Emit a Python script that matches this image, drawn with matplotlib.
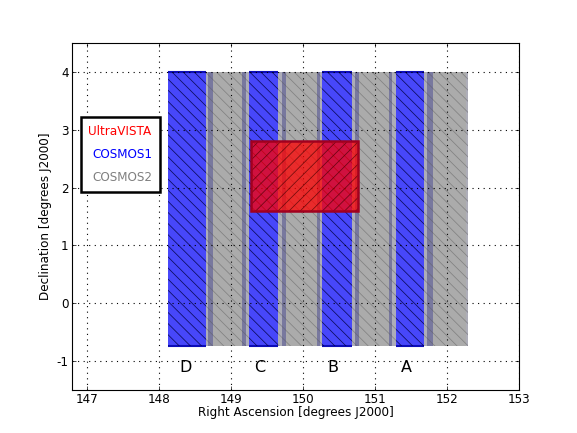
import matplotlib
matplotlib.use("Agg")
import matplotlib.pyplot as plt
from matplotlib.patches import Rectangle

matplotlib.rcParams['hatch.linewidth'] = 0.55
FS = 8.64

cosmos1_ra = [(148.13, 148.65), (149.25, 149.65), (150.27, 150.68), (151.29, 151.68)]
gap_ra = [(148.65, 149.25), (149.65, 150.27), (150.68, 151.29), (151.68, 152.29)]
overlap_ra = [(148.69, 148.75), (149.16, 149.21), (149.71, 149.77), (150.19, 150.23),
              (150.72, 150.78), (151.20, 151.24), (151.72, 151.81)]
cosmos2_ra = [(148.75, 149.16), (149.77, 150.19), (150.78, 151.20), (151.81, 152.26)]
dec_span = (-0.75, 4.0)
uvista_ra = (149.28, 150.76)
uvista_dec = (1.6, 2.8)
stripe_names = ['D', 'C', 'B', 'A']
stripe_label_ra = [148.378, 149.397, 150.416, 151.428]
stripe_label_dec = -1.11
xticks = [147, 148, 149, 150, 151, 152, 153]
yticks = [-1, 0, 1, 2, 3, 4]


def band(ax, ra, color, z):
    ax.add_patch(Rectangle((ra[0], dec_span[0]), ra[1]-ra[0], dec_span[1]-dec_span[0],
                           facecolor=color, edgecolor='none', lw=0, zorder=z))


fig = plt.figure(figsize=(5.77, 4.33), dpi=100)
ax = fig.add_axes([0.125, 0.1, 0.775, 0.8])
for ra in gap_ra:
    band(ax, ra, (0.68, 0.68, 0.72), 2)
for ra in cosmos2_ra:
    band(ax, ra, (0.67, 0.67, 0.67), 2.1)
for ra in overlap_ra:
    band(ax, ra, (0.47, 0.47, 0.62), 2.2)
for ra in cosmos1_ra:
    band(ax, ra, (0.28, 0.28, 0.98), 2.3)
    for y in dec_span:
        ax.plot(ra, [y, y], color=(0.05, 0.05, 0.72), lw=1.5, solid_capstyle='butt', zorder=2.4)
for ra in cosmos1_ra:
    ax.add_patch(Rectangle((ra[0], dec_span[0]), ra[1]-ra[0], dec_span[1]-dec_span[0],
                           fill=False, edgecolor=(0, 0, 0.25, 0.85), lw=0, hatch='\\\\\\', zorder=2.5))
for ra in gap_ra:
    ax.add_patch(Rectangle((ra[0], dec_span[0]), ra[1]-ra[0], dec_span[1]-dec_span[0],
                           fill=False, edgecolor=(0.35, 0.35, 0.35, 0.5), lw=0, hatch='\\\\\\', zorder=2.5))
ax.add_patch(Rectangle((uvista_ra[0], uvista_dec[0]), uvista_ra[1]-uvista_ra[0], uvista_dec[1]-uvista_dec[0],
                       facecolor=(1, 0, 0, 0.75), edgecolor='none', lw=0, zorder=4))
ax.add_patch(Rectangle((uvista_ra[0], uvista_dec[0]), uvista_ra[1]-uvista_ra[0], uvista_dec[1]-uvista_dec[0],
                       fill=False, edgecolor=(0.25, 0, 0, 0.7), lw=0, hatch='///', zorder=4.1))
ax.add_patch(Rectangle((uvista_ra[0], uvista_dec[0]), uvista_ra[1]-uvista_ra[0], uvista_dec[1]-uvista_dec[0],
                       fill=False, edgecolor=(0.63, 0, 0.12), lw=1.8, zorder=4.2))
for n, x in zip(stripe_names, stripe_label_ra):
    ax.text(x, stripe_label_dec, n, fontsize=11.5, ha='center', va='center', zorder=5)
ax.set_xlim(146.8, 153)
ax.set_ylim(-1.5, 4.5)
ax.set_xticks(xticks)
ax.set_yticks(yticks)
ax.set_xticklabels([str(v) for v in xticks], fontsize=FS)
ax.set_yticklabels([str(v) for v in yticks], fontsize=FS)
ax.tick_params(direction='in', top=True, right=True, length=3, width=0.5, pad=2.5)
ax.grid(True, color='k', ls=(0, (1, 4)), lw=0.8, zorder=3)
for line in ax.get_xgridlines() + ax.get_ygridlines():
    line.set_zorder(3)
ax.set_axisbelow(False)
ax.set_xlabel('Right Ascension [degrees J2000]', fontsize=FS, labelpad=0)
ax.set_ylabel('Declination [degrees J2000]', fontsize=FS, labelpad=3)
ax.text(147.465, 2.97, 'UltraVISTA', color='red', fontsize=FS, ha='center', va='center', zorder=7)
ax.text(147.50, 2.575, 'COSMOS1', color='blue', fontsize=FS, ha='center', va='center', zorder=7)
ax.text(147.50, 2.18, 'COSMOS2', color='gray', fontsize=FS, ha='center', va='center', zorder=7)
ax.add_patch(Rectangle((146.92, 1.92), 1.10, 1.31, facecolor='white', edgecolor='black', lw=1.8,
                       zorder=6, clip_on=False))
fig.savefig('out.png', dpi=100)
